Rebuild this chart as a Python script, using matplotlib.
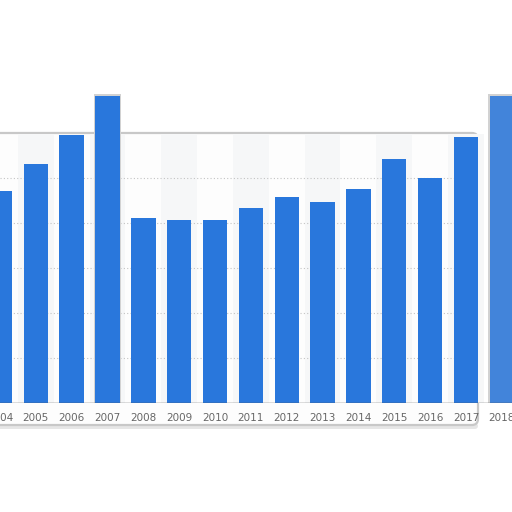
import numpy as np
import matplotlib
matplotlib.use("Agg")
import matplotlib.pyplot as plt
from matplotlib.patches import FancyBboxPatch

# data (relative units, 10 = one gridline step)
years = list(range(2004, 2019))
values = [47.1, 53.1, 59.6, 68.2, 41.2, 40.7, 40.7, 43.3, 45.8, 44.8, 47.7, 54.2, 50.0, 59.1, 68.2]
labels = [str(y) for y in years]
grid_levels = [10, 20, 30, 40, 50]

bar_color = "#2977dc"
W = 512.0

def fy(p):
    return 1 - p / W

fig = plt.figure(figsize=(5.12, 5.12), dpi=100)
fig.patch.set_facecolor("white")

# rounded background panel
panel = FancyBboxPatch((-20 / W, fy(425)), 498 / W, (425 - 133) / W,
                       boxstyle="round,pad=0,rounding_size=0.012",
                       transform=fig.transFigure, facecolor="#fdfdfd",
                       edgecolor="#c8c8c8", linewidth=1.6, zorder=-2)
fig.add_artist(panel)
shadow = FancyBboxPatch((-20 / W, fy(429)), 498 / W, 6 / W,
                        boxstyle="round,pad=0,rounding_size=0.006",
                        transform=fig.transFigure, facecolor="#dcdcdc",
                        edgecolor="none", alpha=0.7, zorder=-3)
fig.add_artist(shadow)

base = 403.3
ax = fig.add_axes([0, fy(base), 1, base / W])
ax.patch.set_visible(False)
ax.set_xlim(2004.13, 2018.285)
ax.set_ylim(0, base / 4.5)

top_panel = (base - 134) / 4.5
# alternating column shading
for y in years:
    if y % 2 == 1 and y < 2018:
        ax.bar(y, top_panel, width=1.0, color="#f6f7f8", zorder=0)

for g in grid_levels:
    ax.axhline(g, xmax=0.93, color="#c4c4c4", linestyle=(0, (1, 2)), linewidth=0.8, zorder=1)

# outline bumps for the tallest bars
for y, v in zip(years, values):
    if v > 65:
        ax.bar(y, v + 0.5, width=0.76, color="#d2d2d2", zorder=2)

bars = ax.bar(years, values, width=0.68, color=bar_color, zorder=3)
bars[-1].set_alpha(0.85)

ax.axhline(0, color="#555555", linewidth=1.0, zorder=4)

ax.set_xticks(years)
ax.set_xticklabels(labels, fontsize=7.5, color="#666666")
ax.tick_params(axis="x", length=0, pad=7)
ax.set_yticks([])
for s in ax.spines.values():
    s.set_visible(False)

fig.savefig("out.png", dpi=100)
